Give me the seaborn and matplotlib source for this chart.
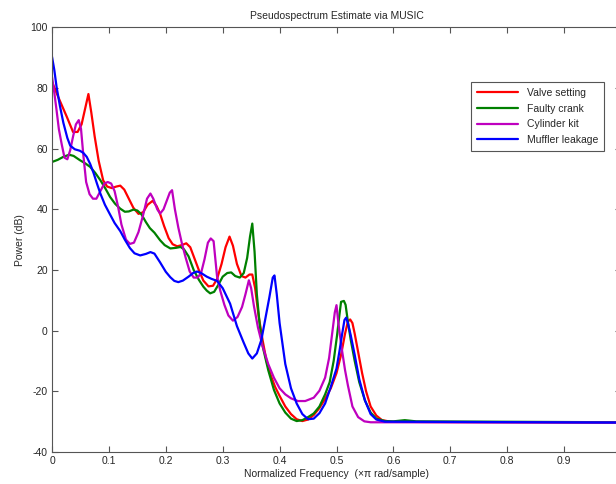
import pandas as pd
import numpy as np
import matplotlib
matplotlib.use('Agg')
import matplotlib.pyplot as plt
import seaborn as sns

# Values (normalized frequency, power in dB)
valve_x = [0.0, 0.011, 0.026, 0.037, 0.045, 0.052, 0.058, 0.064, 0.069, 0.075, 0.082, 0.09, 0.097,
           0.105, 0.113, 0.12, 0.127, 0.135, 0.143, 0.152, 0.16, 0.168, 0.177, 0.184, 0.19, 0.197,
           0.205, 0.212, 0.22, 0.228, 0.236, 0.243, 0.25, 0.258, 0.266, 0.275, 0.283, 0.29, 0.298,
           0.305, 0.312, 0.318, 0.325, 0.333, 0.34, 0.347, 0.352, 0.357, 0.363, 0.37, 0.377, 0.385,
           0.392, 0.40, 0.41, 0.42, 0.43, 0.44, 0.45, 0.46, 0.47, 0.48, 0.49, 0.50, 0.508, 0.515,
           0.52, 0.524, 0.528, 0.532, 0.538, 0.545, 0.552, 0.56, 0.57, 0.58, 0.595, 0.65, 1.0]
valve_y = [82, 77, 70.5, 65.5, 65.5, 68, 73, 78, 72, 64, 56, 49.5, 47.5,
           47, 47.5, 47.8, 46.5, 43.5, 40.5, 38.5, 39, 41.5, 42.8, 41, 38.5, 34.5,
           30.5, 28.5, 27.8, 28.2, 28.8, 27.5, 24, 20, 16.5, 14.6, 14.8, 17, 22,
           27.5, 31, 28, 22, 18, 17.5, 18.5, 18.5, 14, 5, -3, -10, -15,
           -18.5, -21.5, -25, -27.5, -29.2, -29.8, -29.3, -27.8, -25.5, -22.5, -19, -14, -8, -1,
           3, 3.7, 2.5, -1, -7, -14, -20, -25, -28, -29.5, -30, -30.1, -30.3]

crank_x = [0.0, 0.01, 0.02, 0.03, 0.038, 0.049, 0.058, 0.067, 0.076, 0.085, 0.094, 0.102, 0.111,
           0.12, 0.128, 0.135, 0.143, 0.15, 0.157, 0.165, 0.172, 0.18, 0.19, 0.198, 0.208, 0.218,
           0.226, 0.232, 0.24, 0.249, 0.258, 0.266, 0.272, 0.278, 0.285, 0.292, 0.3, 0.308, 0.315,
           0.322, 0.33, 0.337, 0.343, 0.348, 0.352, 0.356, 0.36, 0.365, 0.37, 0.38, 0.39, 0.40,
           0.41, 0.42, 0.43, 0.44, 0.45, 0.46, 0.47, 0.48, 0.488, 0.495, 0.501, 0.505, 0.508, 0.513,
           0.516, 0.52, 0.525, 0.532, 0.54, 0.55, 0.56, 0.57, 0.585, 0.60, 0.62, 0.64, 1.0]
crank_y = [55.6, 56.3, 57.3, 58, 57.6, 56.2, 55.2, 54, 52, 49.6, 46.8, 44.1, 41.8,
           40.2, 39.2, 39.3, 39.9, 39.6, 38.4, 35.8, 33.8, 32.3, 29.8, 28.2, 27.1, 27.3,
           27.6, 26.8, 24.5, 20, 16.8, 14.5, 13.2, 12.3, 12.8, 15, 17.8, 19, 19.2,
           18, 17.5, 19, 24, 31, 35.3, 26, 12, 2, -5, -13, -19.5, -24,
           -27, -29, -29.8, -29.5, -28.5, -27.3, -25, -21, -17, -10, -1.5, 5, 9.5, 9.8,
           8.5, 3, -3, -10, -17, -23, -27, -29, -29.8, -29.9, -29.5, -29.9, -30.2]

cylinder_x = [0.0, 0.004, 0.008, 0.012, 0.017, 0.022, 0.027, 0.032, 0.037, 0.042, 0.047, 0.051,
              0.055, 0.06, 0.066, 0.072, 0.078, 0.085, 0.092, 0.098, 0.104, 0.11, 0.116, 0.122,
              0.13, 0.137, 0.144, 0.152, 0.16, 0.167, 0.173, 0.178, 0.185, 0.19, 0.196, 0.202,
              0.207, 0.211, 0.216, 0.222, 0.228, 0.235, 0.242, 0.249, 0.256, 0.262, 0.268, 0.274,
              0.279, 0.284, 0.29, 0.296, 0.303, 0.31, 0.318, 0.326, 0.334, 0.34, 0.346, 0.35,
              0.355, 0.362, 0.37, 0.38, 0.39, 0.40, 0.41, 0.42, 0.432, 0.445, 0.46, 0.47, 0.48,
              0.487, 0.493, 0.497, 0.5, 0.503, 0.508, 0.515, 0.52, 0.528, 0.538, 0.549, 0.56, 1.0]
cylinder_y = [83.7, 78.5, 72.7, 66.5, 61.5, 57, 56.5, 59.5, 64, 68, 69.4, 66.5,
              58, 49, 45, 43.5, 43.5, 46, 48.5, 49, 48.5, 46, 41, 35,
              30, 28.6, 29, 32.5, 38, 43.5, 45.2, 43.5, 40, 38.6, 40, 43,
              45.5, 46.3, 40, 34, 29, 24, 19.5, 17.5, 17.5, 19, 23.5, 29,
              30.4, 29.5, 18, 13, 8.5, 5, 3.3, 4.5, 7.8, 12, 16.6, 14,
              8, 1, -5, -11, -15.5, -19, -21, -22.3, -23.2, -23.2, -22.1, -19.8, -15.5,
              -9, 0, 6, 8.4, 3, -4.4, -13, -18, -25, -28.5, -29.9, -30.2, -30.3]

muffler_x = [0.0, 0.004, 0.008, 0.014, 0.02, 0.027, 0.032, 0.04, 0.049, 0.055, 0.061, 0.067,
             0.073, 0.079, 0.085, 0.093, 0.102, 0.11, 0.12, 0.128, 0.137, 0.145, 0.155, 0.165,
             0.173, 0.18, 0.19, 0.2, 0.208, 0.215, 0.222, 0.23, 0.24, 0.248, 0.255, 0.262, 0.272,
             0.28, 0.29, 0.3, 0.313, 0.325, 0.337, 0.345, 0.352, 0.36, 0.368, 0.375, 0.382, 0.388,
             0.391, 0.395, 0.4, 0.41, 0.42, 0.43, 0.44, 0.45, 0.46, 0.47, 0.48, 0.49, 0.5, 0.505,
             0.51, 0.514, 0.517, 0.52, 0.525, 0.532, 0.54, 0.55, 0.56, 0.57, 0.585, 1.0]
muffler_y = [90.3, 86, 80.4, 74, 68.5, 63.5, 61, 59.8, 59.3, 58.6, 57.3, 55,
             52, 48.5, 45.2, 41.5, 38.3, 35.5, 32.8, 30, 27.2, 25.5, 24.8, 25.3,
             25.9, 25.4, 22.5, 19.4, 17.6, 16.4, 16, 16.5, 17.8, 19, 19.5, 19, 17.8,
             17.1, 16.4, 14, 8.9, 1.5, -4, -7.5, -9.2, -7.5, -3, 4, 11, 17.5,
             18.2, 12, 2.5, -11, -19, -24, -27.5, -29.2, -29, -27.2, -24, -18.5, -12.5, -7,
             -1, 3.5, 4.3, 2.5, -1.5, -8, -16, -23, -27.5, -29.3, -30, -30.3]

series_names = ['Valve setting', 'Faulty crank', 'Cylinder kit', 'Muffler leakage']
series_colors = ['#ff0000', '#008000', '#bf00bf', '#0000ff']
x_tick_labels = ['0', '0.1', '0.2', '0.3', '0.4', '0.5', '0.6', '0.7', '0.8', '0.9']

frames = []
for name, xs, ys in zip(series_names,
                        [valve_x, crank_x, cylinder_x, muffler_x],
                        [valve_y, crank_y, cylinder_y, muffler_y]):
    frames.append(pd.DataFrame({'freq': xs, 'power': ys, 'series': name}))
df = pd.concat(frames, ignore_index=True)

sns.set_style('white')
plt.rcParams['font.family'] = ['Liberation Sans', 'DejaVu Sans']
plt.rcParams['axes.unicode_minus'] = False

fig = plt.figure(figsize=(6.16, 4.84), dpi=100)
# the right edge of the axes runs slightly past the picture, as in the reference
ax = fig.add_axes([52 / 616, 1 - 452 / 484, 569 / 616, 424.7 / 484])

sns.lineplot(data=df, x='freq', y='power', hue='series', hue_order=series_names,
             palette=dict(zip(series_names, series_colors)), sort=False,
             estimator=None, linewidth=1.6, ax=ax)

ax.set_xlim(0, 1)
ax.set_ylim(-40, 100)
ax.set_xticks(np.arange(0, 1.01, 0.1))
ax.set_xticklabels(x_tick_labels + [''])
ax.set_yticks(np.arange(-40, 101, 20))
ax.tick_params(direction='in', length=4, width=0.8, color='#555555', labelsize=7.5,
               top=True, right=True, bottom=True, left=True, pad=3)
for s in ax.spines.values():
    s.set_color('#555555')
    s.set_linewidth(0.8)

ax.set_title('Pseudospectrum Estimate via MUSIC', fontsize=7.5, pad=6)
ax.set_xlabel('Normalized Frequency  (\u00d7\u03c0 rad/sample)', fontsize=7.5, labelpad=2)
ax.set_ylabel('Power (dB)', fontsize=7.5, labelpad=4)

leg = ax.legend(loc='upper right', bbox_to_anchor=(0.97, 0.871), borderaxespad=0,
                fontsize=7.5, handlelength=4, frameon=True, fancybox=False,
                edgecolor='#555555', framealpha=1, borderpad=0.55, labelspacing=0.55)
leg.get_frame().set_linewidth(0.8)
for line in leg.get_lines():
    line.set_linewidth(1.6)

fig.savefig('out.png', dpi=100)
